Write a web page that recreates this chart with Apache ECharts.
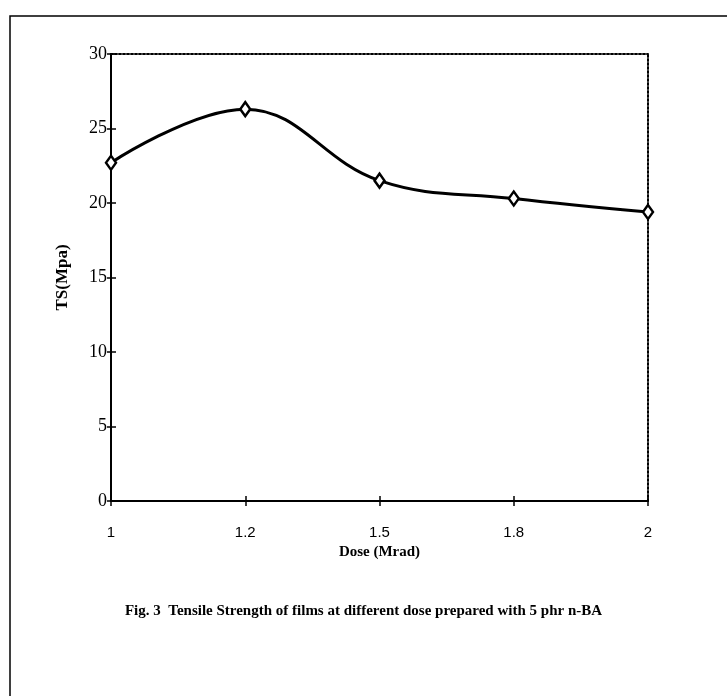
<!DOCTYPE html>
<html>
<head>
<meta charset="utf-8">
<style>html,body{margin:0;padding:0;background:#fff;}#chart{width:727px;height:696px;}</style>
<script src="https://cdn.jsdelivr.net/npm/echarts@6/dist/echarts.min.js"></script>
</head>
<body>
<div id="chart"></div>
<script>
const doseCategories = ['1', '1.2', '1.5', '1.8', '2'];
const tensileStrength = [22.7, 26.3, 21.5, 20.3, 19.4];
const yMin = 0, yMax = 30, yStep = 5;
const yTitle = 'TS(Mpa)';
const xTitle = 'Dose (Mrad)';
const caption = 'Fig. 3  Tensile Strength of films at different dose prepared with 5 phr n-BA';

const chart = echarts.init(document.getElementById('chart'));
const serif = '"Liberation Serif", "Times New Roman", serif';
const sans = '"Liberation Sans", Arial, sans-serif';
const yBase = {type: 'value', min: yMin, max: yMax, interval: yStep, splitLine: {show: false}};
const xBase = {type: 'category', data: doseCategories, boundaryGap: false, splitLine: {show: false}};
chart.setOption({
  animation: false,
  backgroundColor: '#fff',
  grid: {left: 111, right: 79, top: 54, bottom: 195, containLabel: false},
  xAxis: [
    Object.assign({}, xBase, {
      position: 'bottom',
      axisLine: {onZero: false, lineStyle: {color: '#000', width: 2}},
      axisTick: {show: true, length: 5, lineStyle: {color: '#000', width: 1.5}},
      axisLabel: {color: '#000', fontFamily: sans, fontSize: 15, margin: 24},
      name: xTitle, nameLocation: 'middle', nameGap: 44,
      nameTextStyle: {color: '#000', fontFamily: serif, fontWeight: 'bold', fontSize: 15}
    }),
    Object.assign({}, xBase, {
      position: 'top',
      axisLine: {show: true, onZero: false, lineStyle: {color: '#000', width: 2, type: 'dotted'}},
      axisTick: {show: false},
      axisLabel: {show: false}
    }),
    Object.assign({}, xBase, {
      position: 'bottom',
      axisLine: {show: false, onZero: false},
      axisTick: {show: true, inside: true, length: 5, lineStyle: {color: '#000', width: 1.5}},
      axisLabel: {show: false}
    })
  ],
  yAxis: [
    Object.assign({}, yBase, {
      position: 'left',
      axisLine: {show: true, onZero: false, lineStyle: {color: '#000', width: 2}},
      axisTick: {show: true, length: 4, lineStyle: {color: '#000', width: 1.5}},
      axisLabel: {color: '#000', fontFamily: serif, fontSize: 18, margin: 4},
      name: yTitle, nameLocation: 'middle', nameGap: 40, nameRotate: 90,
      nameTextStyle: {color: '#000', fontFamily: serif, fontWeight: 'bold', fontSize: 17}
    }),
    Object.assign({}, yBase, {
      position: 'right',
      axisLine: {show: true, onZero: false, lineStyle: {color: '#000', width: 2, type: 'dotted'}},
      axisTick: {show: false},
      axisLabel: {show: false}
    }),
    Object.assign({}, yBase, {
      position: 'left',
      axisLine: {show: false, onZero: false},
      axisTick: {show: true, inside: true, length: 5, lineStyle: {color: '#000', width: 1.5}},
      axisLabel: {show: false}
    })
  ],
  series: [{
    type: 'line',
    xAxisIndex: 0,
    yAxisIndex: 0,
    data: tensileStrength,
    smooth: 0.4,
    lineStyle: {color: '#000', width: 3},
    symbol: 'diamond',
    symbolSize: [10, 14],
    itemStyle: {color: '#fff', borderColor: '#000', borderWidth: 2.5},
    z: 5
  }],
  graphic: [
    {type: 'rect', shape: {x: 10, y: 16, width: 800, height: 800}, style: {fill: 'none', stroke: '#000', lineWidth: 1.5}, silent: true},
    {type: 'text', left: 'center', top: 604, style: {text: caption, fill: '#000', font: 'bold 15px ' + serif}}
  ]
});
</script>
</body>
</html>
